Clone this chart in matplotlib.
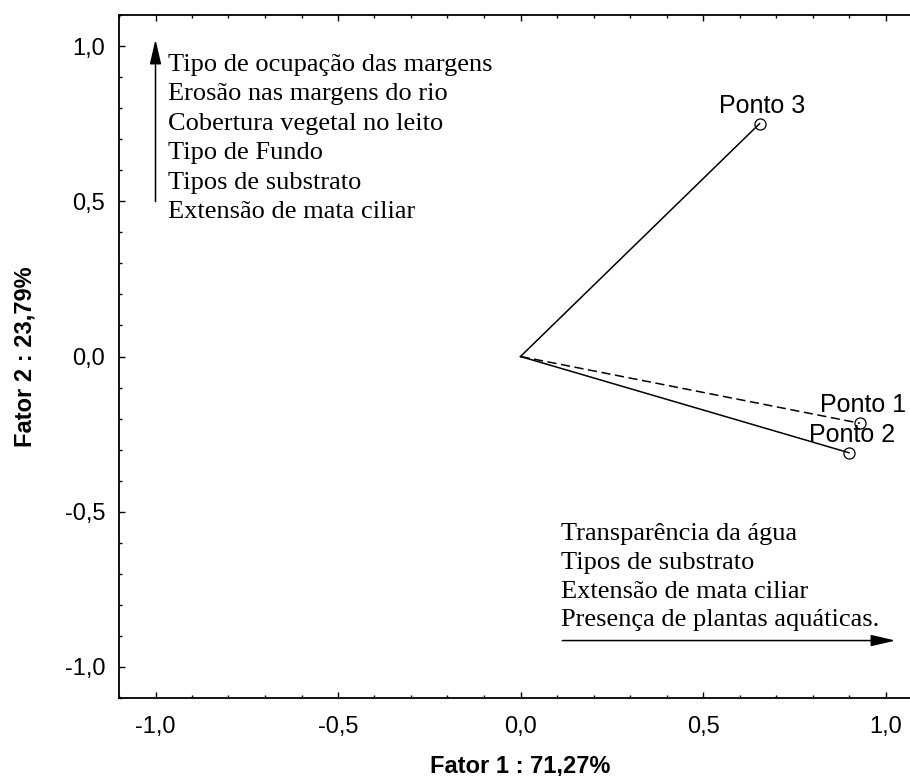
import matplotlib.pyplot as plt
from matplotlib.ticker import MultipleLocator, FuncFormatter

# PCA scores of the sampling points
pontos = ['Ponto 1', 'Ponto 2', 'Ponto 3']
fator1 = [0.93, 0.90, 0.655]
fator2 = [-0.215, -0.31, 0.75]
estilos = ['--', '-', '-']

# variables loading on each factor
vars_fator2 = ['Tipo de ocupação das margens', 'Erosão nas margens do rio',
               'Cobertura vegetal no leito', 'Tipo de Fundo',
               'Tipos de substrato', 'Extensão de mata ciliar']
vars_fator1 = ['Transparência da água', 'Tipos de substrato',
               'Extensão de mata ciliar', 'Presença de plantas aquáticas.']

fig = plt.figure(figsize=(9.1, 7.76), dpi=100)
ax = fig.add_axes([119 / 910, 78 / 776, 803 / 910, 683 / 776])

for x, y, ls, nome in zip(fator1, fator2, estilos, pontos):
    ax.plot([0, x], [0, y], ls, color='black', lw=1.1, dashes=(6, 3) if ls == '--' else (None, None))
    ax.plot(x, y, 'o', mfc='none', mec='black', ms=8, mew=0.9)
    ax.annotate(nome, (x, y), xytext=(2, 13), textcoords='offset points',
                ha='center', va='center', fontsize=18, family='Liberation Sans')

seta = dict(arrowstyle='-|>,head_length=1.5,head_width=0.35', color='black', lw=1.1)

# vertical arrow with Fator 2 variables
ax.annotate('', xy=(-1.0, 1.03), xytext=(-1.0, 0.49), arrowprops=seta)
for i, t in enumerate(vars_fator2):
    ax.text(-0.967, 0.939 - i * 0.095, t, fontsize=19, family='Liberation Serif',
            va='center', ha='left')

# horizontal arrow with Fator 1 variables
ax.annotate('', xy=(1.035, -0.915), xytext=(0.107, -0.915), arrowprops=seta)
for i, t in enumerate(vars_fator1):
    ax.text(0.11, -0.571 - i * 0.093, t, fontsize=19, family='Liberation Serif',
            va='center', ha='left')

ax.set_xlim(-1.1, 1.1)
ax.set_ylim(-1.1, 1.1)
ax.xaxis.set_major_locator(MultipleLocator(0.5))
ax.yaxis.set_major_locator(MultipleLocator(0.5))
ax.xaxis.set_minor_locator(MultipleLocator(0.1))
ax.yaxis.set_minor_locator(MultipleLocator(0.1))
fmt = FuncFormatter(lambda v, p: f"{round(v, 1) + 0.0:.1f}".replace('.', ','))
ax.xaxis.set_major_formatter(fmt)
ax.yaxis.set_major_formatter(fmt)
ax.tick_params(which='both', direction='in', top=True, right=True, width=1.0)
ax.tick_params(which='major', length=4, pad=10, labelsize=17)
ax.tick_params(axis='x', which='major', pad=13)
ax.tick_params(which='minor', length=2.5)
for lab in ax.get_xticklabels() + ax.get_yticklabels():
    lab.set_family('Liberation Sans')
for s in ax.spines.values():
    s.set_linewidth(1.3)

ax.set_xlabel('Fator 1 : 71,27%', fontsize=17, fontweight='bold', family='Liberation Sans', labelpad=12)
ax.set_ylabel('Fator 2 : 23,79%', fontsize=17, fontweight='bold', family='Liberation Sans', labelpad=20)

fig.savefig('out.png', dpi=100)
